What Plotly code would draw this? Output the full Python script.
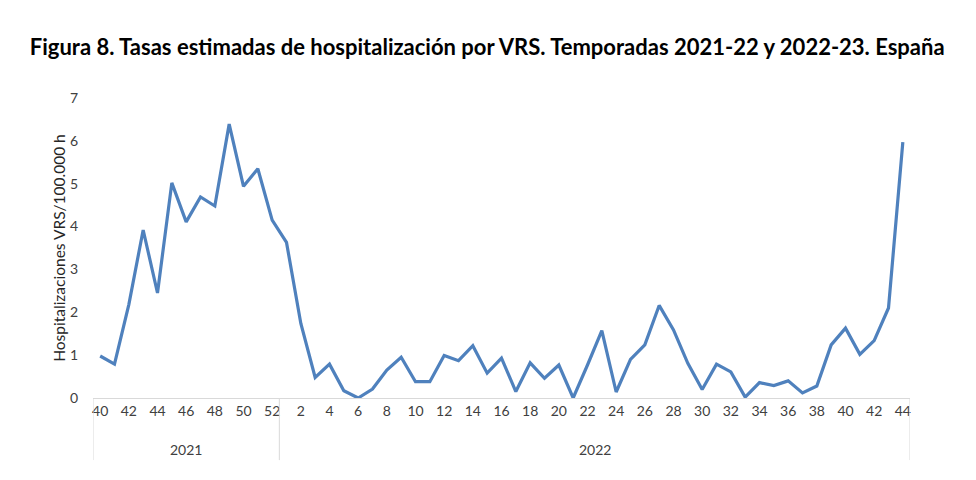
import plotly.graph_objects as go

weeks_2021 = [40, 41, 42, 43, 44, 45, 46, 47, 48, 49, 50, 51, 52]
weeks_2022 = list(range(1, 45))
rates_2021 = [0.98, 0.79, 2.18, 3.92, 2.45, 5.02, 4.11, 4.69, 4.48, 6.39, 4.94, 5.35, 4.15]
rates_2022 = [3.63, 1.74, 0.48, 0.79, 0.17, 0.0, 0.21, 0.65, 0.95, 0.38,
              0.38, 0.99, 0.87, 1.22, 0.58, 0.93, 0.15, 0.82, 0.46, 0.77,
              0.0, 0.77, 1.57, 0.14, 0.90, 1.24, 2.16, 1.59, 0.81, 0.20,
              0.79, 0.61, 0.02, 0.36, 0.29, 0.40, 0.12, 0.28, 1.24, 1.63,
              1.02, 1.34, 2.10, 5.97]
years = ["2021", "2022"]

labels = [str(w) for w in weeks_2021] + [str(w) for w in weeks_2022]
values = rates_2021 + rates_2022
xs = list(range(len(values)))

tickvals = [i for i, l in enumerate(labels) if int(l) % 2 == 0]
ticktext = [labels[i] for i in tickvals]

fig = go.Figure()
fig.add_trace(go.Scatter(
    x=xs, y=values, mode="lines",
    line=dict(color="#4F81BD", width=3.2),
    hoverinfo="skip", showlegend=False,
))

font_family = "Lato, 'Open Sans', sans-serif"
n21 = len(weeks_2021)
n = len(values)

shapes = []
for xv in [-0.5, n21 - 0.5, n - 0.5]:
    shapes.append(dict(type="line", xref="x", yref="paper", x0=xv, x1=xv,
                       y0=0, y1=-0.207, line=dict(color="#D9D9D9", width=1)))

annotations = [
    dict(x=(n21 - 1) / 2, y=-0.173, xref="x", yref="paper", text=years[0],
         showarrow=False, font=dict(size=14, color="#404040", family=font_family),
         yanchor="middle"),
    dict(x=(n21 + n - 1) / 2, y=-0.173, xref="x", yref="paper", text=years[1],
         showarrow=False, font=dict(size=14, color="#404040", family=font_family),
         yanchor="middle"),
]

fig.update_layout(
    width=976, height=480,
    margin=dict(l=85, r=74, t=90, b=90),
    paper_bgcolor="white", plot_bgcolor="white",
    title=dict(
        text="<b>Figura 8. Tasas estimadas de hospitalización por VRS. Temporadas 2021-22 y 2022-23. España</b>",
        x=0.491, xanchor="center", y=0.919, yanchor="middle",
        font=dict(size=22, color="black", family=font_family),
    ),
    xaxis=dict(
        range=[-0.5, n - 0.5], tickvals=tickvals, ticktext=ticktext,
        showgrid=False, zeroline=False, showline=True, linecolor="#D9D9D9",
        linewidth=1, ticks="", tickfont=dict(size=14, color="#404040", family=font_family),
        fixedrange=True,
    ),
    yaxis=dict(
        range=[0, 7], dtick=1, showgrid=False, zeroline=False, showline=False,
        ticks="", ticklabelstandoff=14,
        tickfont=dict(size=14, color="#404040", family=font_family),
        title=dict(text="Hospitalizaciones VRS/100.000 h", standoff=0,
                   font=dict(size=15.5, color="#262626", family=font_family)),
        fixedrange=True,
    ),
    shapes=shapes,
    annotations=annotations,
)

fig.write_html("out.html")
